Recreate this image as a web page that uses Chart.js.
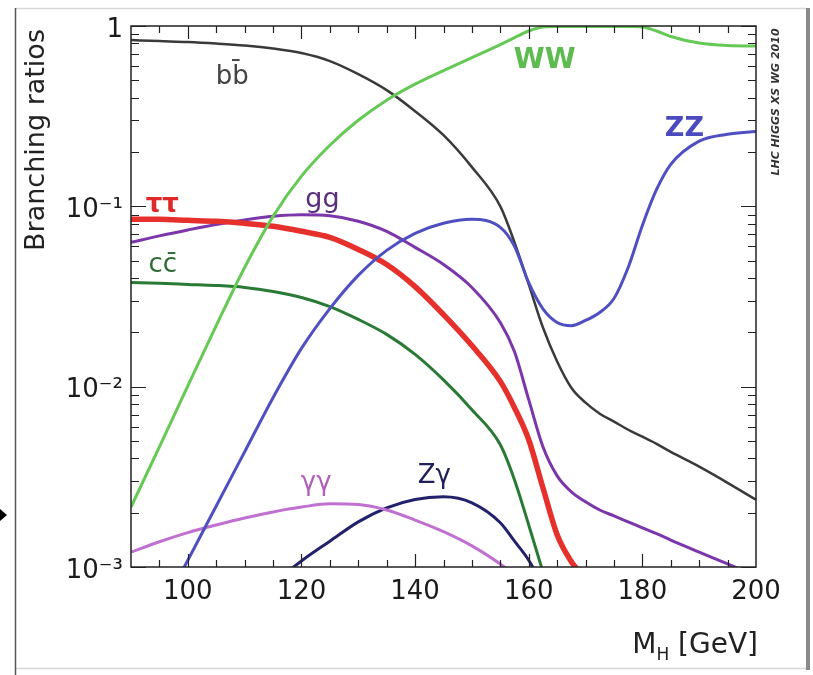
<!DOCTYPE html>
<html>
<head>
<meta charset="utf-8">
<script src="https://cdn.jsdelivr.net/npm/chart.js@4.4.0/dist/chart.umd.min.js"></script>
<style>
    html, body { margin: 0; padding: 0; background: #fff; }
    #wrap { width: 813px; height: 675px; }
</style>
</head>
<body>
<div id="wrap"><canvas id="brChart" width="813" height="675"></canvas></div>
<script>
// Higgs mass points (GeV)
const massPoints = [90, 95, 100, 105, 110, 115, 120, 125, 130, 135, 140, 145, 150, 155, 157.5,
    160, 162.5, 165, 167.5, 170, 172.5, 175, 177.5, 180, 182.5, 185, 190, 195, 200];

// Branching ratios (null = off the chart)
const brBB = [0.836, 0.825, 0.815, 0.799, 0.779, 0.750, 0.708, 0.639, 0.541, 0.441, 0.337, 0.248, 0.165, 0.100, 0.0631,
    0.0369, 0.0213, 0.0138, 0.00987, 0.00815, 0.00708, 0.0064, 0.00577, 0.00528, 0.00482, 0.00435, 0.0036, 0.00293, 0.00236];
const brWW = [0.00215, 0.00464, 0.0101, 0.0218, 0.0458, 0.088, 0.147, 0.218, 0.30, 0.388, 0.476, 0.566, 0.668, 0.789, 0.863,
    0.938, 0.987, 0.993, 0.993, 0.993, 0.993, 0.993, 0.993, 0.987, 0.938, 0.874, 0.804, 0.779, 0.774];
const brZZ = [0.0003, 0.00056, 0.00109, 0.00218, 0.00435, 0.00869, 0.0163, 0.0271, 0.0414, 0.057, 0.0708, 0.0805, 0.0847, 0.0764, 0.060,
    0.0377, 0.027, 0.0227, 0.0218, 0.0233, 0.0258, 0.0308, 0.0458, 0.0784, 0.124, 0.171, 0.23, 0.251, 0.26];
const brGG = [0.0631, 0.0686, 0.074, 0.0794, 0.0841, 0.088, 0.0897, 0.0886, 0.0826, 0.0726, 0.0592, 0.0476, 0.0355, 0.0227, 0.0156,
    0.00847, 0.00464, 0.0032, 0.00261, 0.0023, 0.00207, 0.00192, 0.00178, 0.00165, 0.00153, 0.00141, 0.00121, 0.00104, 0.00089];
const brTauTau = [0.0847, 0.0847, 0.0836, 0.0826, 0.0805, 0.0775, 0.0727, 0.0673, 0.0577, 0.0476, 0.0359, 0.0251, 0.0169, 0.0107, 0.00764,
    0.00508, 0.00275, 0.00151, 0.00107, 0.00085, 0.0006, null, null, null, null, null, null, null, null];
const brCC = [0.0378, 0.0374, 0.0369, 0.0364, 0.0355, 0.0337, 0.0312, 0.0278, 0.0236, 0.0195, 0.0151, 0.0109, 0.00745, 0.00476, 0.00304,
    0.00171, 0.00094, 0.0005, null, null, null, null, null, null, null, null, null, null, null];
const brGamGam = [0.00121, 0.00138, 0.00155, 0.00171, 0.00187, 0.00202, 0.00215, 0.00224, 0.00222, 0.00207, 0.00182, 0.00157, 0.00131, 0.00104, 0.00091,
    0.00079, null, null, null, null, null, null, null, null, null, null, null, null, null];
const brZGam = [null, null, null, null, 0.0006, 0.00081, 0.00108, 0.00139, 0.00178, 0.00213, 0.00237, 0.00245, 0.00227, 0.00176, 0.00139,
    0.00109, 0.00079, null, null, null, null, null, null, null, null, null, null, null, null];

// Axis ticks
const xTickLabels = [100, 120, 140, 160, 180, 200];
const yTickValues = [0.001, 0.01, 0.1, 1];
const yTickLabels = ['10\u207B\u00B3', '10\u207B\u00B2', '10\u207B\u00B9', '1'];

const FONT = "'DejaVu Sans', 'Liberation Sans', sans-serif";

// Curve labels, placed in data coordinates
const curveLabels = [
    { text: 'bb\u0304', m: 107.8, br: 0.52, color: '#444444', size: 26, weight: 'normal' },
    { text: 'WW', m: 162.8, br: 0.64, color: '#5dbb4f', size: 28, weight: 'bold' },
    { text: 'ZZ', m: 187.4, br: 0.27, color: '#4b4bbf', size: 27, weight: 'bold' },
    { text: '\u03C4\u03C4', m: 95.5, br: 0.101, color: '#e0282a', size: 26, weight: 'bold' },
    { text: 'gg', m: 123.7, br: 0.108, color: '#5b2d7e', size: 27, weight: 'normal' },
    { text: 'cc\u0304', m: 95.6, br: 0.047, color: '#2f6b35', size: 26, weight: 'normal' },
    { text: '\u03B3\u03B3', m: 122.6, br: 0.0029, color: '#b060b8', size: 26, weight: 'normal' },
    { text: 'Z\u03B3', m: 143.4, br: 0.0032, color: '#20205a', size: 26, weight: 'normal' }
];

function toPoints(values) {
    return massPoints
        .map((m, i) => ({ x: m, y: values[i] }))
        .filter(p => p.y !== null);
}

function makeLine(label, values, color, width) {
    return {
        label: label,
        data: toPoints(values),
        borderColor: color,
        backgroundColor: color,
        borderWidth: width,
        showLine: true,
        pointRadius: 0,
        cubicInterpolationMode: 'monotone',
        clip: 0
    };
}

// Draws frame, inward ticks, titles and curve labels
const decorPlugin = {
    id: 'decor',
    beforeDraw(chart) {
        const c = chart.ctx;
        c.save();
        c.fillStyle = '#ffffff';
        c.fillRect(0, 0, chart.width, chart.height);
        // outer picture border
        c.strokeStyle = '#d8d8d8';
        c.lineWidth = 1.5;
        c.beginPath();
        c.moveTo(15, 8.5); c.lineTo(806, 8.5);
        c.moveTo(15, 668.5); c.lineTo(806, 668.5);
        c.stroke();
        c.strokeStyle = '#555555';
        c.beginPath();
        c.moveTo(15.5, 8); c.lineTo(15.5, 675);
        c.stroke();
        c.fillStyle = '#8a8a8a';
        c.fillRect(806, 8, 4, 662);
        // small arrow on the left
        c.fillStyle = '#000';
        c.beginPath();
        c.moveTo(0, 509); c.lineTo(7, 515); c.lineTo(0, 521);
        c.closePath();
        c.fill();
        c.restore();
    },
    afterDatasetsDraw(chart) {
        const c = chart.ctx;
        const a = chart.chartArea;
        const xs = chart.scales.x;
        const ys = chart.scales.y;
        c.save();

        // plot box
        c.strokeStyle = '#222';
        c.lineWidth = 1.5;
        c.strokeRect(a.left, a.top, a.right - a.left, a.bottom - a.top);

        // x ticks every 5 GeV, longer every 20
        c.lineWidth = 1.2;
        c.beginPath();
        for (let m = 95; m < 200; m += 5) {
            const px = Math.round(xs.getPixelForValue(m)) + 0.5;
            const len = (m % 20 === 0) ? 13 : 7;
            c.moveTo(px, a.bottom); c.lineTo(px, a.bottom - len);
            c.moveTo(px, a.top); c.lineTo(px, a.top + len);
        }
        // y ticks: decades and 2..9
        for (let d = -3; d <= 0; d++) {
            for (let k = 1; k <= 9; k++) {
                const v = k * Math.pow(10, d);
                if (v > 1 || v < 0.001) continue;
                const py = Math.round(ys.getPixelForValue(v)) + 0.5;
                const len = (k === 1) ? 15 : 8;
                c.moveTo(a.left, py); c.lineTo(a.left + len, py);
                c.moveTo(a.right, py); c.lineTo(a.right - len, py);
            }
        }
        c.stroke();

        // curve labels
        c.textAlign = 'center';
        c.textBaseline = 'middle';
        curveLabels.forEach(l => {
            c.font = `${l.weight} ${l.size}px ${FONT}`;
            c.fillStyle = l.color;
            c.fillText(l.text, xs.getPixelForValue(l.m), ys.getPixelForValue(l.br));
        });

        // y title
        c.fillStyle = '#222';
        c.font = `27px ${FONT}`;
        c.save();
        c.translate(37, 140);
        c.rotate(-Math.PI / 2);
        c.textAlign = 'center';
        c.fillText('Branching ratios', 0, 0);
        c.restore();

        // x title M_H [GeV], right aligned
        c.textBaseline = 'alphabetic';
        c.textAlign = 'left';
        const bigFont = `28px ${FONT}`;
        const subFont = `17px ${FONT}`;
        c.font = bigFont;
        const wM = c.measureText('M').width;
        const wRest = c.measureText(' [GeV]').width;
        c.font = subFont;
        const wH = c.measureText('H').width;
        let x0 = a.right + 2 - (wM + wH + wRest);
        const base = 653;
        c.font = bigFont;
        c.fillText('M', x0, base);
        c.font = subFont;
        c.fillText('H', x0 + wM, base + 7);
        c.font = bigFont;
        c.fillText(' [GeV]', x0 + wM + wH, base);

        // collaboration stamp
        c.save();
        c.translate(776, 102);
        c.rotate(-Math.PI / 2);
        c.textAlign = 'center';
        c.textBaseline = 'middle';
        c.font = `italic bold 11px ${FONT}`;
        c.fillStyle = '#333';
        c.fillText('LHC HIGGS XS WG 2010', 0, 0);
        c.restore();

        c.restore();
    }
};

const ctx = document.getElementById('brChart').getContext('2d');
new Chart(ctx, {
    type: 'scatter',
    data: {
        datasets: [
            makeLine('WW', brWW, '#66c955', 3),
            makeLine('ZZ', brZZ, '#4f4fc2', 3),
            makeLine('cc', brCC, '#2a7a36', 3),
            makeLine('gamgam', brGamGam, '#c070d0', 3),
            makeLine('Zgam', brZGam, '#22226c', 3),
            makeLine('tautau', brTauTau, '#e5302b', 5.5),
            makeLine('gg', brGG, '#7a36aa', 3),
            makeLine('bb', brBB, '#3a3a3a', 2.5)
        ]
    },
    options: {
        responsive: false,
        animation: false,
        events: [],
        layout: { padding: { top: 26, right: 57, left: 0, bottom: 0 } },
        plugins: {
            legend: { display: false },
            tooltip: { enabled: false }
        },
        scales: {
            x: {
                type: 'linear',
                min: 90,
                max: 200,
                grid: { display: false, drawTicks: false },
                border: { display: false },
                afterBuildTicks: function(scale) {
                    scale.ticks = xTickLabels.map(v => ({ value: v }));
                },
                afterFit: function(scale) {
                    scale.height = 108;
                },
                ticks: {
                    color: '#1a1a1a',
                    font: { family: FONT, size: 26 },
                    padding: 10,
                    maxRotation: 0,
                    autoSkip: false
                }
            },
            y: {
                type: 'logarithmic',
                min: 0.001,
                max: 1,
                grid: { display: false, drawTicks: false },
                border: { display: false },
                afterBuildTicks: function(scale) {
                    scale.ticks = yTickValues.map(v => ({ value: v }));
                },
                afterFit: function(scale) {
                    scale.width = 131;
                },
                ticks: {
                    color: '#1a1a1a',
                    font: { family: FONT, size: 26 },
                    padding: 8,
                    labelOffset: 4,
                    autoSkip: false,
                    callback: function(value) {
                        const i = yTickValues.indexOf(value);
                        return i >= 0 ? yTickLabels[i] : '';
                    }
                }
            }
        }
    },
    plugins: [decorPlugin]
});
</script>
</body>
</html>
